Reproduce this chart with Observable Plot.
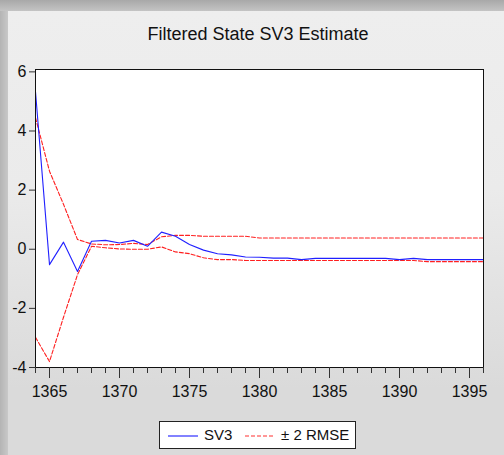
<!DOCTYPE html>
<html>
<head>
<meta charset="utf-8">
<script src="https://cdn.jsdelivr.net/npm/d3@7"></script>
<script src="https://cdn.jsdelivr.net/npm/@observablehq/plot@0.6"></script>
<style>
  html, body { margin: 0; padding: 0; }
  body { width: 504px; height: 455px; overflow: hidden; position: relative;
         background: linear-gradient(to right, #b4b4b4 0px, #c8c8c8 8px, #c8c8c8 100%);
         font-family: Arial, "Liberation Sans", sans-serif; }
  #topshade { position: absolute; left: 0; top: 0; width: 504px; height: 11px;
         background: linear-gradient(to bottom, #a8a8a8, #c4c4c4); }
  #panel { position: absolute; left: 8px; top: 11px; width: 496px; height: 444px;
         background: linear-gradient(to bottom, #eeeeee 0%, #ebebeb 40%, #dadada 85%, #dadada 100%); }
  #title { position: absolute; left: 0; top: 24px; width: 516px; text-align: center;
         font-size: 18px; color: #111; }
  #chart { position: absolute; left: 0; top: 0; }
  #legend { position: absolute; left: 159px; top: 421px; width: 197px; height: 28px;
         border: 1px solid #222; background: #fff; box-sizing: border-box;
         font-size: 15px; color: #111; }
  #legend .item { position: absolute; top: 4px; }
  #legend svg { position: absolute; }
</style>
</head>
<body>
<div id="topshade"></div>
<div id="panel"></div>
<div id="title">Filtered State SV3 Estimate</div>
<div id="chart"></div>
<div id="legend">
  <svg width="34" height="28" style="left:8px;top:0"><line x1="0" y1="14" x2="30" y2="14" stroke="#3030ff" stroke-width="1.2"/></svg>
  <span class="item" style="left:44px">SV3</span>
  <svg width="34" height="28" style="left:85px;top:0"><line x1="0" y1="14" x2="30" y2="14" stroke="#ff3030" stroke-width="1.2" stroke-dasharray="4,2"/></svg>
  <span class="item" style="left:121px">± 2 RMSE</span>
</div>
<script>
const years = d3.range(1364, 1397);
const sv3 = [5.33, -0.52, 0.24, -0.75, 0.27, 0.3, 0.21, 0.3, 0.1, 0.58, 0.44, 0.16, -0.03, -0.15, -0.19, -0.26, -0.27, -0.3, -0.3, -0.35, -0.31, -0.31, -0.31, -0.31, -0.31, -0.31, -0.35, -0.31, -0.35, -0.35, -0.35, -0.35, -0.35];
const upper = [4.45, 2.64, 1.52, 0.33, 0.18, 0.15, 0.16, 0.2, 0.16, 0.42, 0.47, 0.47, 0.44, 0.44, 0.44, 0.44, 0.38, 0.38, 0.38, 0.38, 0.38, 0.38, 0.38, 0.38, 0.38, 0.38, 0.38, 0.38, 0.38, 0.38, 0.38, 0.38, 0.38];
const lower = [-2.98, -3.8, -2.3, -0.86, 0.1, 0.05, 0.01, 0.0, 0.0, 0.08, -0.09, -0.15, -0.29, -0.35, -0.35, -0.38, -0.38, -0.38, -0.38, -0.38, -0.38, -0.38, -0.38, -0.38, -0.38, -0.38, -0.38, -0.38, -0.42, -0.42, -0.42, -0.42, -0.42];
const majorTicks = [1365, 1370, 1375, 1380, 1385, 1390, 1395];
const yTicks = [-4, -2, 0, 2, 4, 6];

const rows = years.map((y, i) => ({year: y, sv3: sv3[i], upper: upper[i], lower: lower[i]}));

const chart = Plot.plot({
  width: 504,
  height: 455,
  marginTop: 69,
  marginBottom: 88,
  marginLeft: 35,
  marginRight: 21,
  style: {background: "transparent", fontFamily: "Arial, 'Liberation Sans', sans-serif", fontSize: "16px", color: "#111"},
  x: {domain: [1364, 1396], label: null},
  y: {domain: [-4, 6.08], label: null},
  marks: [
    Plot.frame({fill: "white", stroke: "none"}),
    Plot.line(rows, {x: "year", y: "upper", stroke: "#ff2020", strokeWidth: 1.1, strokeDasharray: "4,2"}),
    Plot.line(rows, {x: "year", y: "lower", stroke: "#ff2020", strokeWidth: 1.1, strokeDasharray: "4,2"}),
    Plot.line(rows, {x: "year", y: "sv3", stroke: "#2020ff", strokeWidth: 1.1}),
    Plot.frame({stroke: "#111", strokeWidth: 1}),
    Plot.axisY({ticks: yTicks, tickSize: 6, tickPadding: 3, label: null, tickFormat: d => d < 0 ? "-" + Math.abs(d) : String(d), stroke: "#333"}),
    Plot.axisX({ticks: years, tickSize: 6, label: null, tickFormat: () => "", stroke: "#333"}),
    Plot.axisX({ticks: majorTicks, tickSize: 11, tickPadding: 7, label: null, tickFormat: d => String(d), stroke: "#333"})
  ]
});
document.getElementById("chart").appendChild(chart);
</script>
</body>
</html>
